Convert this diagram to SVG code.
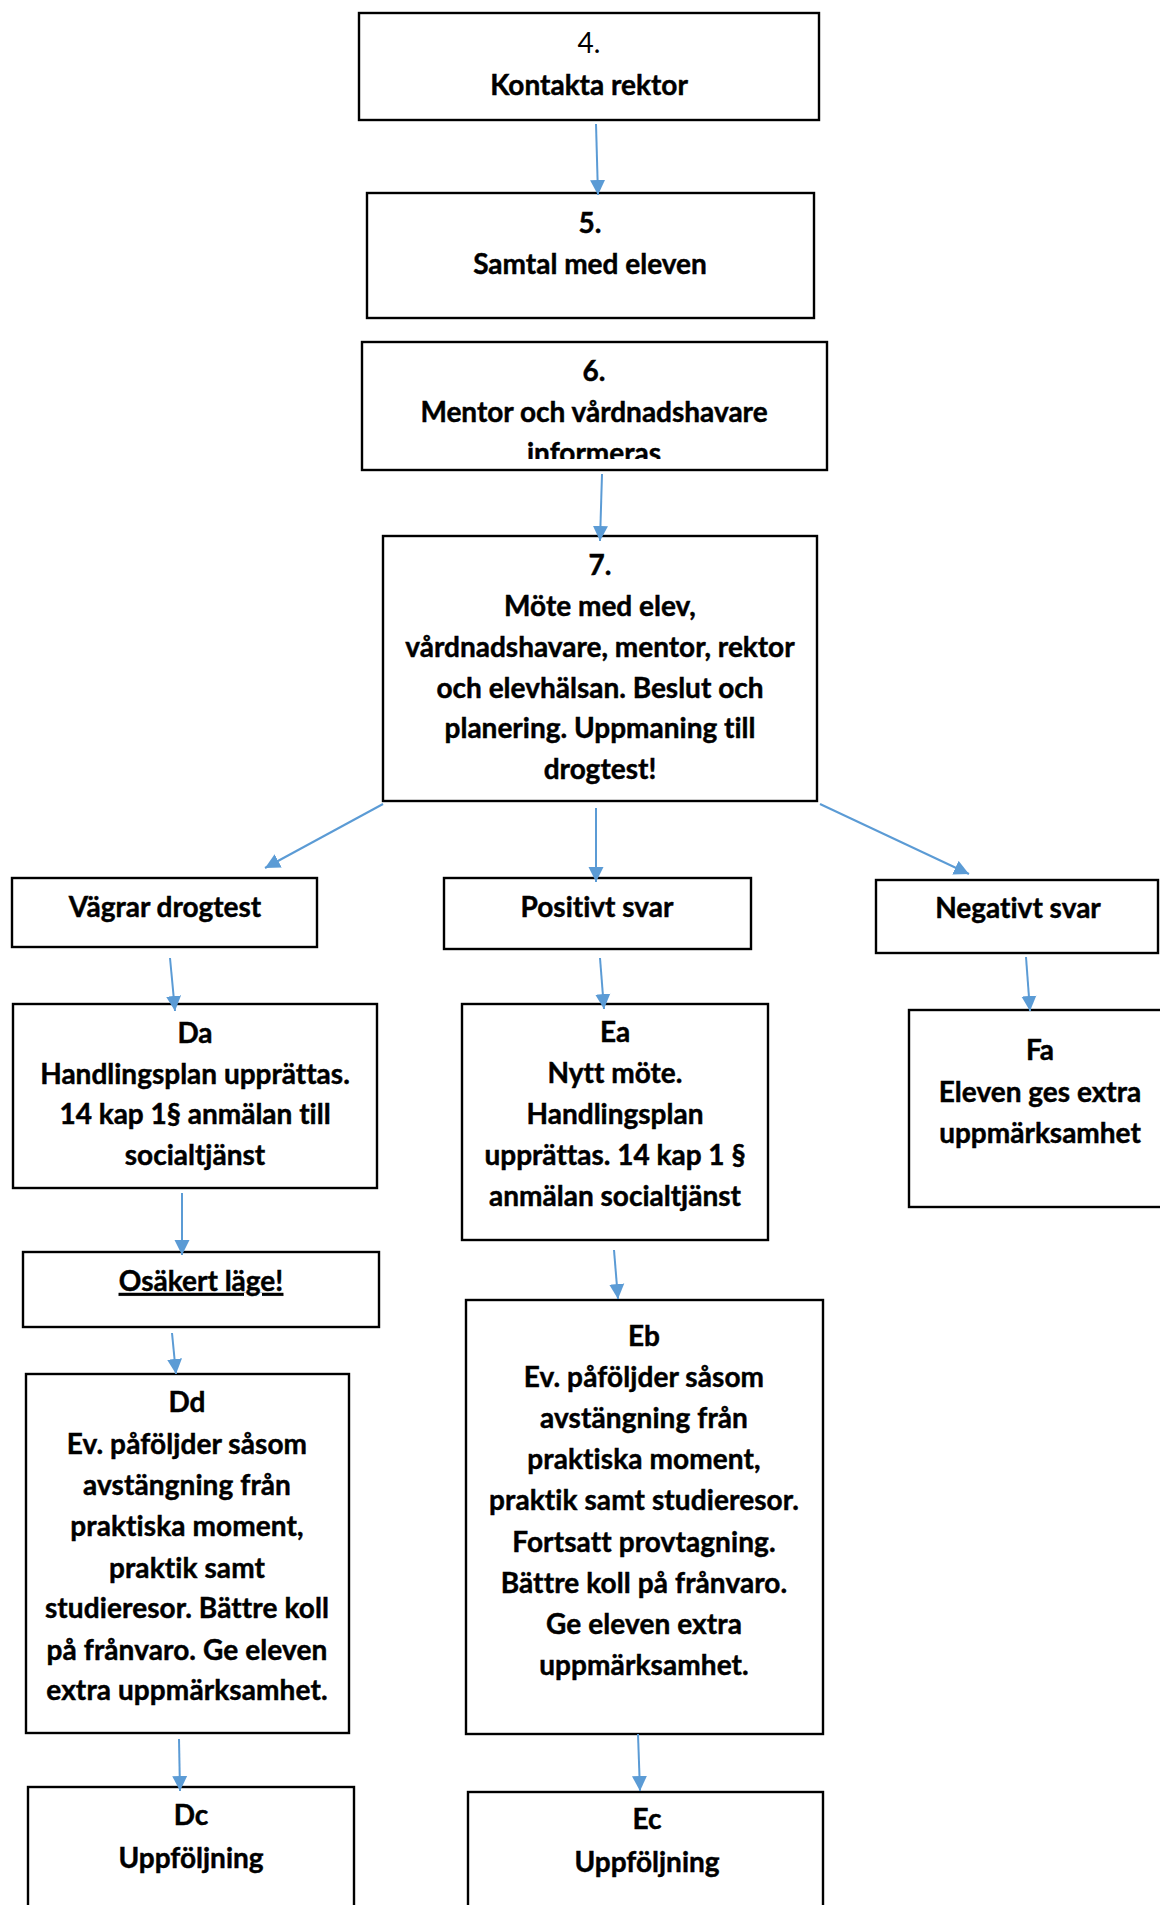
<svg xmlns="http://www.w3.org/2000/svg" width="1160" height="1905" viewBox="0 0 1160 1905">
<style>
.box{fill:#fff;stroke:#000;stroke-width:2.4}
.t{font-family:Lato,'Liberation Sans',sans-serif;font-weight:700;font-size:28px;text-anchor:middle;fill:#000;stroke:#000;stroke-width:0.45;font-variant-ligatures:none;font-feature-settings:"liga" 0,"clig" 0}
.r{font-weight:400;stroke-width:0}
.w{letter-spacing:0.1px}
.u{text-decoration:underline}
.c{fill:none;stroke:#5B9BD5;stroke-width:2}
</style>
<defs>
<marker id="ah" viewBox="0 0 10 10" refX="10" refY="5" markerUnits="userSpaceOnUse" markerWidth="15" markerHeight="16" orient="auto">
<path d="M0,0 L10,5 L0,10 z" fill="#5B9BD5"/>
</marker>
<clipPath id="clip6"><rect x="362" y="342" width="465" height="117"/></clipPath>
</defs>
<rect width="1160" height="1905" fill="#fff"/>
<g id="n4">
<rect class="box" x="359" y="13" width="460" height="107"/>
<text class="t r" x="589" y="53">4.</text>
<text class="t" x="589" y="95">Kontakta rektor</text>
</g>
<g id="n5">
<rect class="box" x="367" y="193" width="447" height="125"/>
<text class="t" x="590" y="233">5.</text>
<text class="t" x="590" y="274">Samtal med eleven</text>
</g>
<g id="n6">
<rect class="box" x="362" y="342" width="465" height="128"/>
<g clip-path="url(#clip6)">
<text class="t" x="594" y="381">6.</text>
<text class="t" x="594" y="422">Mentor och vårdnadshavare</text>
<text class="t" x="594" y="463">informeras</text>
</g>
</g>
<g id="n7">
<rect class="box" x="383" y="536" width="434" height="265"/>
<text class="t" x="600" y="575">7.</text>
<text class="t" x="600" y="616">Möte med elev,</text>
<text class="t" x="600" y="657">vårdnadshavare, mentor, rektor</text>
<text class="t" x="600" y="698">och elevhälsan. Beslut och</text>
<text class="t" x="600" y="738">planering. Uppmaning till</text>
<text class="t" x="600" y="779">drogtest!</text>
</g>
<g id="vagrar">
<rect class="box" x="12" y="878" width="305" height="69"/>
<text class="t" x="165" y="917">Vägrar drogtest</text>
</g>
<g id="positivt">
<rect class="box" x="444" y="878" width="307" height="71"/>
<text class="t" x="597" y="917">Positivt svar</text>
</g>
<g id="negativt">
<rect class="box" x="876" y="880" width="282" height="73"/>
<text class="t" x="1018" y="918">Negativt svar</text>
</g>
<g id="Da">
<rect class="box" x="13" y="1004" width="364" height="184"/>
<text class="t" x="195" y="1043">Da</text>
<text class="t" x="195" y="1084">Handlingsplan upprättas.</text>
<text class="t" x="195" y="1124">14 kap 1§ anmälan till</text>
<text class="t" x="195" y="1165">socialtjänst</text>
</g>
<g id="Ea">
<rect class="box" x="462" y="1004" width="306" height="236"/>
<text class="t" x="615" y="1042">Ea</text>
<text class="t" x="615" y="1083">Nytt möte.</text>
<text class="t" x="615" y="1124">Handlingsplan</text>
<text class="t" x="615" y="1165">upprättas. 14 kap 1 §</text>
<text class="t" x="615" y="1206">anmälan socialtjänst</text>
</g>
<g id="Fa">
<rect class="box" x="909" y="1010" width="270" height="197"/>
<text class="t" x="1040" y="1060">Fa</text>
<text class="t" x="1040" y="1102">Eleven ges extra</text>
<text class="t" x="1040" y="1143">uppmärksamhet</text>
</g>
<g id="osakert">
<rect class="box" x="23" y="1252" width="356" height="75"/>
<text class="t u" x="201" y="1291">Osäkert läge!</text>
</g>
<g id="Dd">
<rect class="box" x="26" y="1374" width="323" height="359"/>
<text class="t" x="187" y="1412">Dd</text>
<text class="t w" x="187" y="1454">Ev. påföljder såsom</text>
<text class="t w" x="187" y="1495">avstängning från</text>
<text class="t w" x="187" y="1536">praktiska moment,</text>
<text class="t w" x="187" y="1578">praktik samt</text>
<text class="t w" x="187" y="1618">studieresor. Bättre koll</text>
<text class="t w" x="187" y="1660">på frånvaro. Ge eleven</text>
<text class="t w" x="187" y="1700">extra uppmärksamhet.</text>
</g>
<g id="Eb">
<rect class="box" x="466" y="1300" width="357" height="434"/>
<text class="t" x="644" y="1346">Eb</text>
<text class="t w" x="644" y="1387">Ev. påföljder såsom</text>
<text class="t w" x="644" y="1428">avstängning från</text>
<text class="t w" x="644" y="1469">praktiska moment,</text>
<text class="t w" x="644" y="1510">praktik samt studieresor.</text>
<text class="t w" x="644" y="1552">Fortsatt provtagning.</text>
<text class="t w" x="644" y="1593">Bättre koll på frånvaro.</text>
<text class="t w" x="644" y="1634">Ge eleven extra</text>
<text class="t w" x="644" y="1675">uppmärksamhet.</text>
</g>
<g id="Dc">
<rect class="box" x="28" y="1787" width="326" height="140"/>
<text class="t" x="191" y="1825">Dc</text>
<text class="t" x="191" y="1868">Uppföljning</text>
</g>
<g id="Ec">
<rect class="box" x="468" y="1792" width="355" height="140"/>
<text class="t" x="647" y="1829">Ec</text>
<text class="t" x="647" y="1872">Uppföljning</text>
</g>
<g id="connectors">
<line class="c" x1="596" y1="124" x2="598" y2="195" marker-end="url(#ah)"/>
<line class="c" x1="602" y1="474" x2="600" y2="541" marker-end="url(#ah)"/>
<line class="c" x1="383" y1="804" x2="265" y2="868" marker-end="url(#ah)"/>
<line class="c" x1="596" y1="808" x2="596" y2="882" marker-end="url(#ah)"/>
<line class="c" x1="820" y1="804" x2="969" y2="874" marker-end="url(#ah)"/>
<line class="c" x1="170" y1="958" x2="175" y2="1011" marker-end="url(#ah)"/>
<line class="c" x1="600" y1="958" x2="604" y2="1009" marker-end="url(#ah)"/>
<line class="c" x1="1026" y1="957" x2="1030" y2="1011" marker-end="url(#ah)"/>
<line class="c" x1="182" y1="1193" x2="182" y2="1255" marker-end="url(#ah)"/>
<line class="c" x1="172" y1="1333" x2="176" y2="1374" marker-end="url(#ah)"/>
<line class="c" x1="614" y1="1250" x2="618" y2="1299" marker-end="url(#ah)"/>
<line class="c" x1="179" y1="1739" x2="180" y2="1791" marker-end="url(#ah)"/>
<line class="c" x1="638" y1="1734" x2="640" y2="1791" marker-end="url(#ah)"/>
</g>
</svg>
